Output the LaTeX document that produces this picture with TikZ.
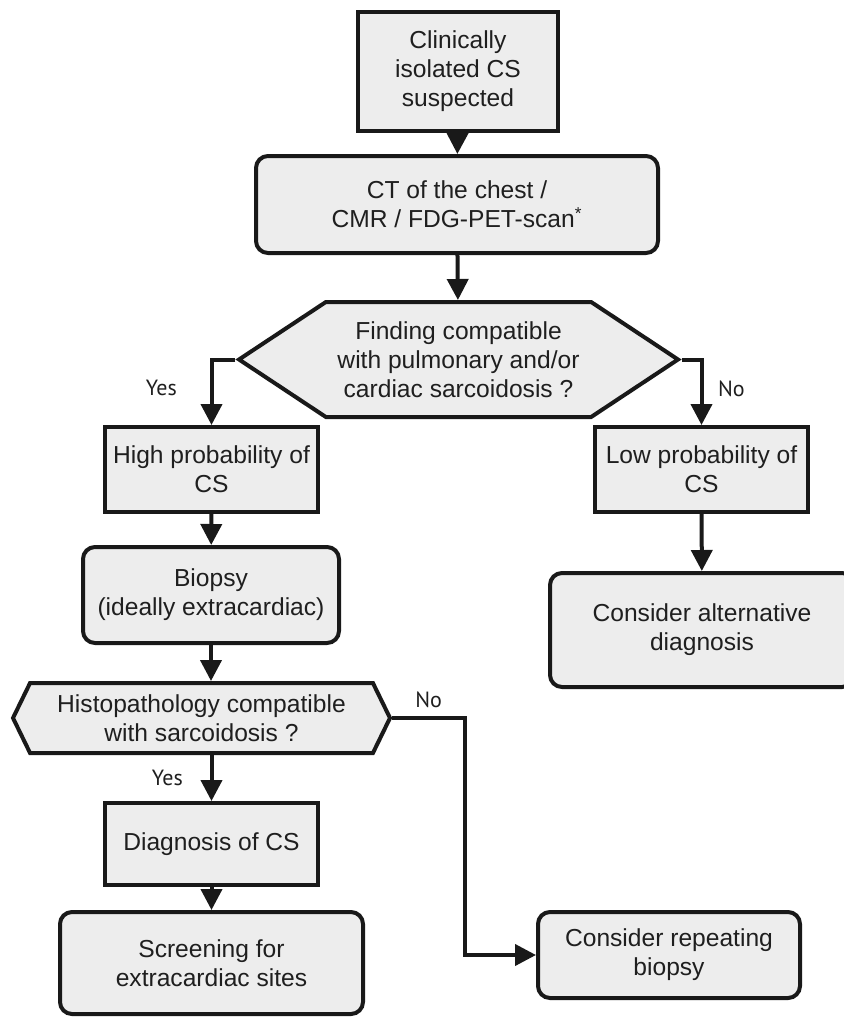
\documentclass[tikz,border=0pt]{standalone}
\usepackage{fontspec}
\setmainfont{Liberation Sans}
\newfontfamily\ynfont{PT Sans}
\usetikzlibrary{shapes.symbols,arrows.meta}

\begin{document}
\begin{tikzpicture}[x=0.5pt, y=-0.5pt,
    every node/.style={font=\fontsize{12.3}{14.5}\selectfont, text=black!88, align=center},
    box/.style={draw=black!90, line width=2pt, fill=black!7, inner sep=2pt},
    rbox/.style={box, rounded corners=6pt},
    hexbox/.style={box, signal, signal to=east and west},
    arr/.style={draw=black!90, line width=2pt, -{Triangle[length=10.5pt,width=10.5pt]}},
    yn/.style={font=\ynfont\fontsize{11}{12}\selectfont}]
    \useasboundingbox[fill=white] (0,0) rectangle (843,1017);
    % boxes
    \node[box, minimum width=100pt, minimum height=59.5pt] (clin) at (458,71.5) {Clinically\\isolated CS\\suspected};
    \node[rbox, minimum width=201pt, minimum height=48.5pt] (ct) at (457,204.5) {CT of the chest /\\CMR / FDG-PET-scan\textsuperscript{*}};
    \node[hexbox, signal pointer angle=67, minimum width=219.5pt, minimum height=57.5pt] (hex1) at (458.5,359.5) {Finding compatible\\with pulmonary and/or\\cardiac sarcoidosis ?};
    \node[box, minimum width=106.5pt, minimum height=42.5pt] (high) at (211.5,469.5) {High probability of\\CS};
    \node[box, minimum width=106.5pt, minimum height=42.5pt] (low) at (701.5,469.5) {Low probability of\\CS};
    \node[rbox, minimum width=128pt, minimum height=48pt] (bio) at (211,595) {Biopsy\\(ideally extracardiac)};
    \node[rbox, minimum width=152pt, minimum height=57pt] (alt) at (702,630) {Consider alternative\\diagnosis};
    \node[hexbox, signal pointer angle=128, minimum width=188.5pt, minimum height=35pt] (hex2) at (201.5,718) {Histopathology compatible\\with sarcoidosis ?};
    \node[box, minimum width=106.5pt, minimum height=41pt] (diag) at (211.5,844) {Diagnosis of CS};
    \node[rbox, minimum width=151.5pt, minimum height=51pt] (scr) at (211.5,963) {Screening for\\extracardiac sites};
    \node[rbox, minimum width=131pt, minimum height=43pt] (rep) at (669,955) {Consider repeating\\biopsy};
    \coordinate (bend) at (465,718);
    % arrows
    \draw[arr] (clin) -- (ct);
    \draw[arr] (ct) -- (hex1);
    \draw[arr] (hex1.west) -| node[yn, pos=0.72, left=13pt] {Yes} (high.north);
    \draw[arr] (hex1.east) -| node[yn, pos=0.72, right=4pt] {No} (low.north);
    \draw[arr] (high) -- (bio);
    \draw[arr] (low) -- (alt);
    \draw[arr] (bio.south) -- (bio.south |- hex2.north);
    \draw[arr] (diag.north |- hex2.south) -- node[yn, left=10pt] {Yes} (diag.north);
    \draw[arr] (diag) -- (scr);
    \draw[arr] (hex2.east) -- node[yn, above=1pt] {No} (bend) |- (rep.west);
\end{tikzpicture}
\end{document}
